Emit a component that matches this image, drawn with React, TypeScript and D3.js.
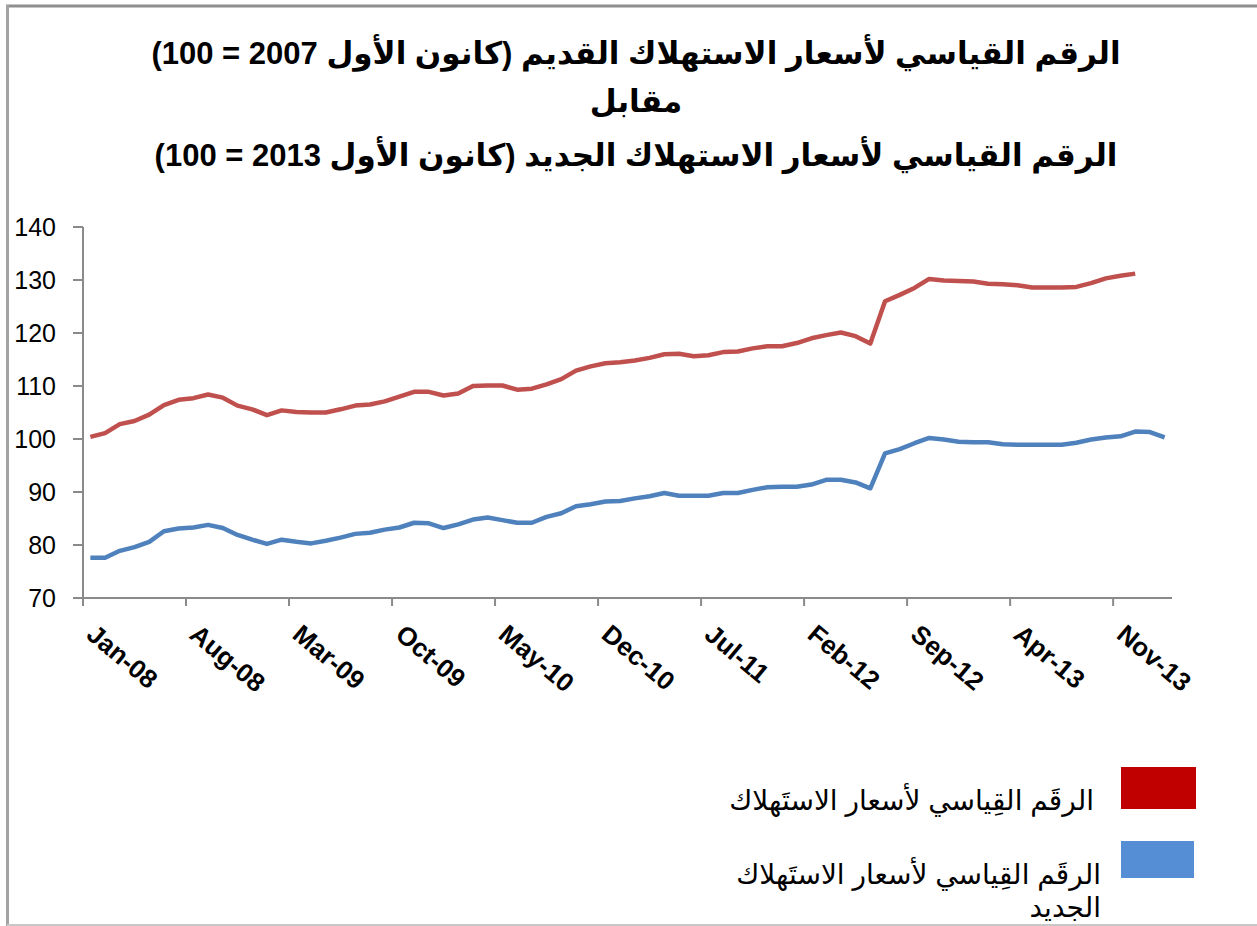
import React from "react";
import * as d3 from "d3";

const months: string[] = (() => {
  const m = ["Jan","Feb","Mar","Apr","May","Jun","Jul","Aug","Sep","Oct","Nov","Dec"];
  const out: string[] = [];
  for (let y = 8; y <= 14; y++) for (const mm of m) out.push(`${mm}-${String(y).padStart(2, "0")}`);
  return out.slice(0, 74);
})();

const tickLabels = ["Jan-08","Aug-08","Mar-09","Oct-09","May-10","Dec-10","Jul-11","Feb-12","Sep-12","Apr-13","Nov-13"];

const oldCPI = [
  100.4, 101.1, 102.8, 103.4, 104.6, 106.4, 107.4, 107.7, 108.4, 107.8,
  106.3, 105.6, 104.5, 105.4, 105.1, 105.0, 105.0, 105.6, 106.3, 106.5,
  107.1, 108.0, 108.9, 108.9, 108.2, 108.6, 110.0, 110.1, 110.1, 109.3,
  109.5, 110.3, 111.3, 112.9, 113.7, 114.3, 114.5, 114.8, 115.3, 116.0,
  116.1, 115.6, 115.8, 116.4, 116.5, 117.1, 117.5, 117.5, 118.1, 119.0,
  119.6, 120.1, 119.4, 118.0, 126.0, 127.2, 128.5, 130.2, 129.9, 129.8,
  129.7, 129.3, 129.2, 129.0, 128.6, 128.6, 128.6, 128.7, 129.4, 130.3,
  130.8, 131.2,
];

const newCPI = [
  77.6, 77.6, 78.9, 79.6, 80.6, 82.6, 83.1, 83.3, 83.8, 83.2,
  81.9, 81.0, 80.2, 81.0, 80.6, 80.3, 80.8, 81.4, 82.1, 82.3,
  82.9, 83.3, 84.2, 84.1, 83.2, 83.9, 84.8, 85.2, 84.7, 84.2,
  84.2, 85.3, 86.0, 87.3, 87.7, 88.2, 88.3, 88.8, 89.2, 89.8,
  89.3, 89.3, 89.3, 89.8, 89.8, 90.4, 90.9, 91.0, 91.0, 91.4,
  92.3, 92.3, 91.8, 90.7, 97.3, 98.1, 99.2, 100.2, 99.9, 99.5,
  99.4, 99.4, 99.0, 98.9, 98.9, 98.9, 98.9, 99.3, 99.9, 100.3,
  100.5, 101.4, 101.3, 100.3,
];

const yTicks = [70, 80, 90, 100, 110, 120, 130, 140];

const titleLines = [
  "الرقم القياسي لأسعار الاستهلاك القديم (كانون الأول 2007 = 100)",
  "مقابل",
  "الرقم القياسي لأسعار الاستهلاك الجديد (كانون الأول 2013 = 100)",
];

const legendOld = "الرقَم القِياسي لأسعار الاستَهلاك";
const legendNew1 = "الرقَم القِياسي لأسعار الاستَهلاك";
const legendNew2 = "الجديد";

export default function App() {
  const W = 1257, H = 926;
  const left = 83, right = 1172, top = 227, bottom = 598;
  const x = d3.scaleBand<string>().domain(months).range([left, right]).padding(0);
  const cx = (i: number) => (x(months[i]) as number) + x.bandwidth() / 2;
  const y = d3.scaleLinear().domain([70, 140]).range([bottom, top]);
  const line = d3.line<number>().x((_, i) => cx(i)).y((d) => y(d));
  const tickIdx = tickLabels.map((t) => months.indexOf(t));
  const font = "'Liberation Sans', Arial, 'DejaVu Sans', sans-serif";

  return (
    <svg width={W} height={H} style={{ position: "absolute", left: 0, top: 0, background: "#fff" }} fontFamily={font}>
      <rect x={0} y={0} width={W} height={H} fill="#fff" />
      {/* frame */}
      <line x1={6} x2={W} y1={6} y2={6} stroke="#8f8f8f" strokeWidth={3} />
      <line x1={7.5} x2={7.5} y1={5} y2={H} stroke="#a3a3a3" strokeWidth={3} />
      <line x1={7} x2={W} y1={925} y2={925} stroke="#c8c8c8" strokeWidth={2} />

      {/* title */}
      {titleLines.map((t, i) => (
        <text key={i} x={636} y={[64, 112, 166][i]} textAnchor="middle" direction="rtl"
          fontSize={31} fontWeight="bold" fill="#000">{t}</text>
      ))}

      {/* y axis */}
      <line x1={left} x2={left} y1={top} y2={bottom} stroke="#8a8a8a" strokeWidth={2} />
      {yTicks.map((t) => (
        <g key={t}>
          <line x1={73} x2={left} y1={y(t)} y2={y(t)} stroke="#8a8a8a" strokeWidth={2} />
          <text x={56} y={y(t)} dy="0.36em" textAnchor="end" fontSize={25} fill="#000">{t}</text>
        </g>
      ))}

      {/* x axis */}
      <line x1={left} x2={right} y1={bottom} y2={bottom} stroke="#8a8a8a" strokeWidth={2} />
      {tickIdx.map((i, k) => {
        const tx = x(months[i]) as number;
        return (
          <g key={k}>
            <line x1={tx} x2={tx} y1={bottom} y2={bottom + 8} stroke="#8a8a8a" strokeWidth={2} />
            <text transform={`translate(${tx + 2},${637}) rotate(40)`} fontSize={26} fontWeight="bold" fill="#000">
              {tickLabels[k]}
            </text>
          </g>
        );
      })}

      {/* lines */}
      <path d={line(oldCPI) as string} fill="none" stroke="#C0504D" strokeWidth={4.5} strokeLinejoin="round" />
      <path d={line(newCPI) as string} fill="none" stroke="#4F81BD" strokeWidth={4.5} strokeLinejoin="round" />

      {/* legend */}
      <rect x={1121} y={767} width={75} height={42} fill="#C00000" />
      <text x={1094} y={810} direction="rtl" textAnchor="start" fontSize={28} fill="#000">{legendOld}</text>
      <rect x={1121} y={841} width={73} height={37} fill="#558ED5" />
      <text x={1101} y={884} direction="rtl" textAnchor="start" fontSize={28} fill="#000">{legendNew1}</text>
      <text x={1101} y={917} direction="rtl" textAnchor="start" fontSize={28} fill="#000">{legendNew2}</text>
    </svg>
  );
}
